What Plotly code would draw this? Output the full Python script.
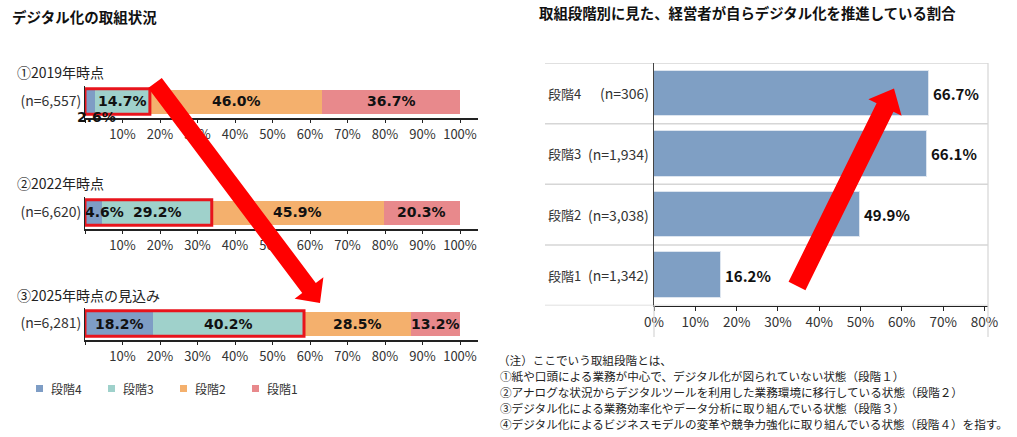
import plotly.graph_objects as go

# ---------------- data ----------------
stage_names = ["段階4", "段階3", "段階2", "段階1"]
year_titles = ["①2019年時点", "②2022年時点", "③2025年時点の見込み"]
n_left = ["(n=6,557)", "(n=6,620)", "(n=6,281)"]
share_2019 = [2.6, 14.7, 46.0, 36.7]
share_2022 = [4.6, 29.2, 45.9, 20.3]
share_2025 = [18.2, 40.2, 28.5, 13.2]
pct_ticks_left = [0, 10, 20, 30, 40, 50, 60, 70, 80, 90, 100]

right_stages = ["段階1", "段階2", "段階3", "段階4"]
right_n = ["(n=1,342)", "(n=3,038)", "(n=1,934)", "(n=306)"]
right_share = [16.2, 49.9, 66.1, 66.7]
pct_ticks_right = [0, 10, 20, 30, 40, 50, 60, 70, 80]

left_title = "デジタル化の取組状況"
right_title = "取組段階別に見た、経営者が自らデジタル化を推進している割合"
note_lines = [
    "（注）ここでいう取組段階とは、",
    "①紙や口頭による業務が中心で、デジタル化が図られていない状態（段階１）",
    "②アナログな状況からデジタルツールを利用した業務環境に移行している状態（段階２）",
    "③デジタル化による業務効率化やデータ分析に取り組んでいる状態（段階３）",
    "④デジタル化によるビジネスモデルの変革や競争力強化に取り組んでいる状態（段階４）を指す。",
]

# ---------------- style ----------------
W, H = 1017, 437
JP = "Noto Sans CJK JP"
colors = ["#7e9dc5", "#9fd1cb", "#f4b06d", "#e8898c"]
right_color = "#7f9fc4"
red = "#e8141c"


def fx(x):
    return x / W


def fy(y):
    return 1 - y / H


fig = go.Figure()
left_data = [share_2019, share_2022, share_2025]
bar_centers = [101.5, 212.5, 323.5]
annotations = []
shapes = []


def ann(**kw):
    kw.setdefault("showarrow", False)
    kw.setdefault("yanchor", "middle")
    kw.setdefault("xanchor", "center")
    annotations.append(kw)


# special label offsets (xshift, yshift) for labels that do not fit in their segment
special = {(0, 0): (7, -16), (1, 0): (11, 0)}

for i, vals in enumerate(left_data):
    sx = "" if i == 0 else str(i + 1)
    xa, ya = "x" + sx, "y" + sx
    for j, (name, v) in enumerate(zip(stage_names, vals)):
        fig.add_trace(go.Bar(
            x=[v], y=[0], orientation="h", name=name, width=0.72,
            marker=dict(color=colors[j], line=dict(width=0)),
            xaxis=xa, yaxis=ya, showlegend=False, hoverinfo="skip"))
    cum = 0
    for j, v in enumerate(vals):
        xs, ys = special.get((i, j), (0, 0))
        ann(x=cum + v / 2, y=0, xref=xa, yref=ya, text=f"<b>{v:.1f}%</b>",
            xshift=xs, yshift=ys,
            font=dict(family="DejaVu Sans", size=14, color="#111"))
        cum += v
    # red highlight box around 段階4 + 段階3
    shapes.append(dict(type="rect", xref=xa, yref=ya, x0=0, x1=vals[0] + vals[1],
                       y0=-0.4, y1=0.4, line=dict(color=red, width=3), layer="above"))
    c = bar_centers[i]
    fig.layout["xaxis" + sx] = dict(
        domain=[fx(85), fx(478)], range=[0, 104.8], anchor=ya, automargin=False,
        tickvals=pct_ticks_left,
        ticktext=["" if t == 0 else f"{t}%" for t in pct_ticks_left],
        ticks="outside", ticklen=4, tickcolor="#222", showline=True,
        linecolor="#222", linewidth=1.5, showgrid=False, zeroline=False,
        tickfont=dict(family=JP, size=13, color="#333"), fixedrange=True)
    fig.layout["yaxis" + sx] = dict(
        domain=[fy(c + 16), fy(c - 16)], range=[-0.5, 0.5], anchor=xa, automargin=False,
        tickvals=[0], ticktext=[n_left[i]], ticks="", showline=True,
        linecolor="#222", linewidth=1, showgrid=False, zeroline=False,
        tickfont=dict(family=JP, size=14, color="#333"), fixedrange=True)
    ann(x=fx(15), y=fy(c - 29), xref="paper", yref="paper", xanchor="left",
        text=year_titles[i], font=dict(family=JP, size=14, color="#222"))

# manual legend
leg_x = [36, 108, 180, 252]
for j, name in enumerate(stage_names):
    shapes.append(dict(type="rect", xref="paper", yref="paper",
                       x0=fx(leg_x[j]), x1=fx(leg_x[j] + 7), y0=fy(392), y1=fy(385),
                       fillcolor=colors[j], line=dict(width=0)))
    ann(x=fx(leg_x[j] + 13), y=fy(388.5), xref="paper", yref="paper",
        xanchor="left", text=name, font=dict(family=JP, size=12, color="#333"))

# ---------------- right chart ----------------
fig.add_trace(go.Bar(
    x=right_share, y=right_stages, orientation="h", width=0.75,
    marker=dict(color=right_color, line=dict(color="#dde5ef", width=1)),
    xaxis="x4", yaxis="y4", showlegend=False, hoverinfo="skip"))

fig.layout.xaxis4 = dict(
    domain=[fx(654), fx(988)], range=[0, 80.87], anchor="y4", automargin=False,
    tickvals=pct_ticks_right, ticktext=[f"{t}%" for t in pct_ticks_right],
    ticks="outside", ticklen=4, tickcolor="#222", showline=True,
    linecolor="#222", linewidth=1.3, showgrid=False, zeroline=False,
    tickfont=dict(family=JP, size=13.5, color="#333"), fixedrange=True)
fig.layout.yaxis4 = dict(
    domain=[fy(305.5), fy(63)], range=[-0.5, 3.5], anchor="x4", automargin=False,
    type="category", categoryorder="array", categoryarray=right_stages,
    showticklabels=False, ticks="", showline=True, linecolor="#444",
    linewidth=1, showgrid=False, zeroline=False, fixedrange=True)

for k, (st, n, v) in enumerate(zip(right_stages, right_n, right_share)):
    ann(x=fx(546), y=st, xref="paper", yref="y4", xanchor="left",
        text=st, font=dict(family=JP, size=13, color="#333"))
    ann(x=fx(651), y=st, xref="paper", yref="y4", xanchor="right",
        text=n, font=dict(family=JP, size=14, color="#333"))
    ann(x=v, y=st, xref="x4", yref="y4", xanchor="left", xshift=2,
        text=f"<b>{v:.1f}%</b>", font=dict(family=JP, size=15, color="#111"))

# row separators and frame
for b in [-0.5, 0.5, 1.5, 2.5, 3.5]:
    shapes.append(dict(type="line", xref="paper", yref="y4", x0=fx(545), x1=fx(988),
                       y0=b, y1=b, line=dict(color="#d6d6d6", width=1.5), layer="below"))
shapes.append(dict(type="line", xref="paper", yref="paper", x0=fx(988), x1=fx(988),
                   y0=fy(337), y1=fy(63), line=dict(color="#d6d6d6", width=1.2)))
shapes.append(dict(type="line", xref="paper", yref="paper", x0=fx(654), x1=fx(654),
                   y0=fy(337), y1=fy(305), line=dict(color="#d6d6d6", width=1.2)))


# ---------------- arrows ----------------
def arrow_path(S, B, T, w, hw):
    dx, dy = B[0] - S[0], B[1] - S[1]
    L = (dx * dx + dy * dy) ** 0.5
    dx, dy = dx / L, dy / L
    nx, ny = -dy, dx
    pts = [(S[0] + nx * w, S[1] + ny * w), (B[0] + nx * w, B[1] + ny * w),
           (B[0] + nx * hw, B[1] + ny * hw), T,
           (B[0] - nx * hw, B[1] - ny * hw), (B[0] - nx * w, B[1] - ny * w),
           (S[0] - nx * w, S[1] - ny * w)]
    return "M " + " L ".join(f"{fx(p[0]):.5f},{fy(p[1]):.5f}" for p in pts) + " Z"


shapes.append(dict(type="path", xref="paper", yref="paper",
                   path=arrow_path((155, 83), (309, 288), (320, 303), 8.5, 18),
                   fillcolor="#ff0000", line=dict(width=0), layer="above"))
shapes.append(dict(type="path", xref="paper", yref="paper",
                   path=arrow_path((797, 286), (885, 107.5), (894, 88.5), 9.4, 18.5),
                   fillcolor="#ff0000", line=dict(width=0), layer="above"))

# ---------------- titles and note ----------------
ann(x=fx(10), y=fy(17), xref="paper", yref="paper", xanchor="left",
    text=f"<b>{left_title}</b>", font=dict(family=JP, size=14.5, color="#111"))
ann(x=fx(537), y=fy(12), xref="paper", yref="paper", xanchor="left",
    text=f"<b>{right_title}</b>", font=dict(family=JP, size=14.4, color="#111"))
for k, line in enumerate(note_lines):
    ann(x=fx(496 if k == 0 else 498), y=fy(360 + 16 * k),
        xref="paper", yref="paper", xanchor="left", text=line,
        font=dict(family=JP, size=11.6, color="#222"))

fig.update_layout(
    width=W, height=H, margin=dict(l=0, r=0, t=0, b=0, pad=0, autoexpand=False),
    paper_bgcolor="white", plot_bgcolor="white", barmode="stack",
    bargap=0, annotations=annotations, shapes=shapes, showlegend=False,
    font=dict(family=JP))

fig.write_html("out.html")
